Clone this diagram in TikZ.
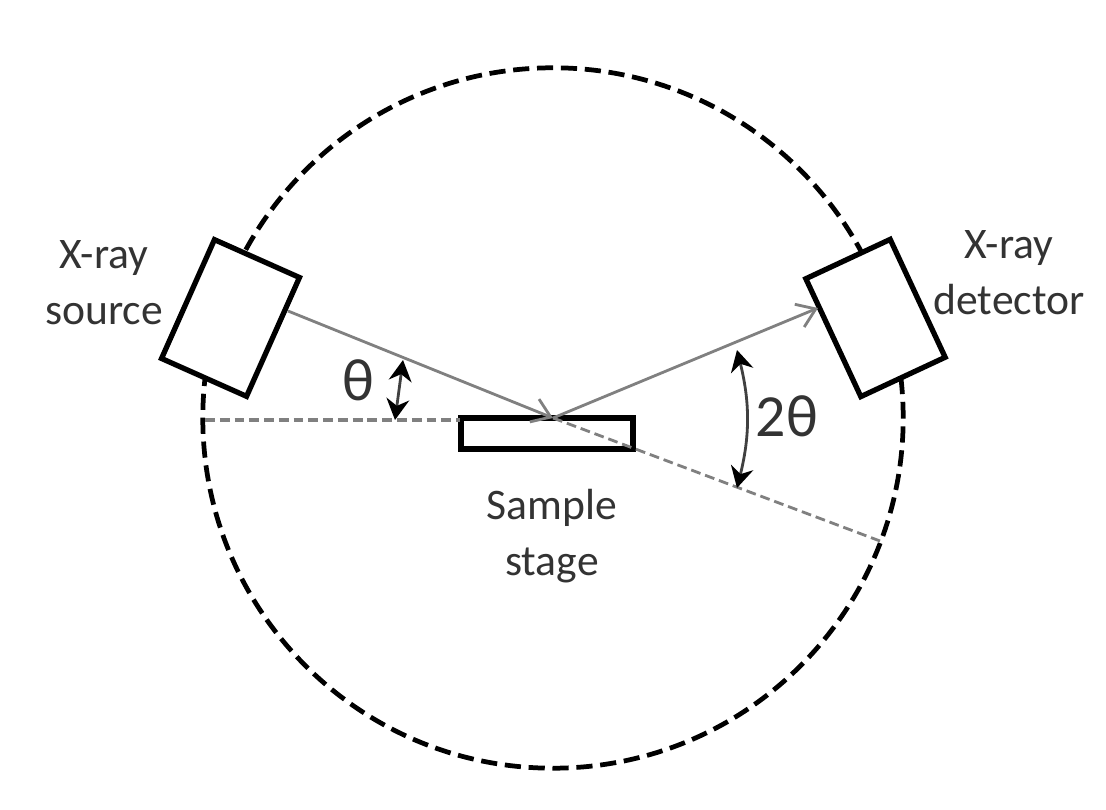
\documentclass[tikz,border=0pt]{standalone}
\usepackage{fontspec}
\setmainfont{Carlito}
\usetikzlibrary{arrows.meta}
\tikzset{
  box/.style={draw, line width=1.5pt, fill=white, inner sep=0pt, minimum width=0.93cm, minimum height=1.3cm},
  lbl/.style={align=center, text=black!80, font=\fontsize{12.4}{16}\selectfont},
  sym/.style={text=black!80, font=\fontsize{17}{20}\selectfont},
  rim/.style={line width=1.35pt, dash pattern=on 4.6pt off 2.2pt},
  beam/.style={draw=black!50, line width=0.8pt, -{Straight Barb[length=5pt,width=7pt]}},
  guide/.style={draw=black!50, line width=0.8pt, dash pattern=on 2.8pt off 1.4pt},
  angle/.style={draw=black!75, line width=0.8pt, {Stealth[length=6pt,width=6.5pt,black]}-{Stealth[length=6pt,width=6.5pt,black]}}
}
\begin{document}
\begin{tikzpicture}[x=0.01cm,y=-0.01cm]
  \useasboundingbox (0,0) rectangle (1106,810);
  \draw[rim] (553,418) circle (3.5cm);
  \draw
    (553,418) coordinate (hit)
    (205,420) coordinate (west)
    (460,420) coordinate (edge)
    (880,541) coordinate (far)
    (288,311) coordinate (out)
    (818,308) coordinate (in)
    (403,360) coordinate (a1)
    (395,420) coordinate (a2)
    (737,350) coordinate (b1)
    (737,488) coordinate (b2);
  \node[box, rotate=-24] (source) at (230.5,318) {};
  \node[box, rotate=25] (detector) at (875.5,318) {};
  \node[draw, line width=1.5pt, inner sep=0pt, minimum width=1.72cm, minimum height=0.31cm] (stage) at (547,433.5) {};
  \node[lbl] (sourcetext) at (104,282.5) {X-ray\\source};
  \node[lbl] (detectortext) at (1009,273) {X-ray\\detector};
  \node[lbl] (stagetext) at (552,536) {Sample\\stage};
  \node[sym] (theta) at (358,380) {θ};
  \node[sym] (twotheta) at (787,416) {2θ};
  \begin{scope}
    \draw[guide, line width=1.1pt] (west) to (edge);
    \draw[guide] (hit) to (far);
    \draw[beam] (out) to (hit);
    \draw[beam] (hit) to (in);
    \draw[angle] (a1) to (a2);
    \draw[angle] (b1) to[bend left=14] (b2);
  \end{scope}
\end{tikzpicture}
\end{document}
